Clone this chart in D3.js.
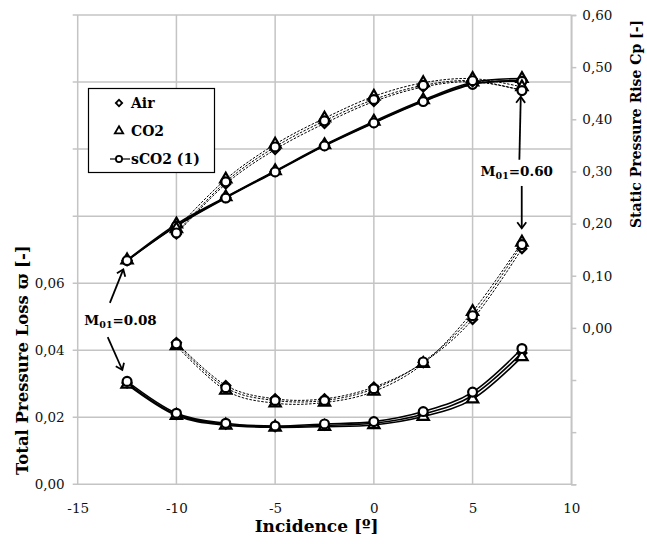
<!DOCTYPE html>
<html><head><meta charset="utf-8">
<script src="https://cdn.jsdelivr.net/npm/d3@7/dist/d3.min.js"></script>
<style>body{margin:0;background:#fff}svg{display:block}</style>
</head><body>
<svg id="c" width="647" height="544"></svg>
<script>
// ---------- data ----------
const incLow  = [-12.5, -10, -7.5, -5, -2.5, 0, 2.5, 5, 7.5];   // M01 = 0.08
const incHigh = [-10, -7.5, -5, -2.5, 0, 2.5, 5, 7.5];          // M01 = 0.60
const gases = ["Air", "CO2", "sCO2 (1)"];

// static pressure rise Cp (right axis)
const cpLowAir   = [0.129, 0.196, 0.250, 0.300, 0.350, 0.394, 0.435, 0.468, 0.474];
const cpLowCO2   = [0.130, 0.199, 0.251, 0.301, 0.351, 0.396, 0.437, 0.471, 0.478];
const cpLowSCO2  = [0.129, 0.195, 0.249, 0.299, 0.349, 0.393, 0.434, 0.467, 0.473];
const cpHighAir  = [0.180, 0.276, 0.342, 0.392, 0.434, 0.462, 0.472, 0.456];
const cpHighCO2  = [0.190, 0.285, 0.352, 0.402, 0.444, 0.470, 0.478, 0.462];
const cpHighSCO2 = [0.182, 0.280, 0.347, 0.397, 0.438, 0.465, 0.474, 0.455];

// total pressure loss (left axis)
const lossLowAir   = [0.0302, 0.0208, 0.0179, 0.0172, 0.0176, 0.0182, 0.0209, 0.0265, 0.0392];
const lossLowCO2   = [0.0298, 0.0205, 0.0176, 0.0170, 0.0172, 0.0177, 0.0202, 0.0254, 0.0380];
const lossLowSCO2  = [0.0307, 0.0212, 0.0182, 0.0174, 0.0180, 0.0187, 0.0217, 0.0275, 0.0405];
const lossHighAir  = [0.0423, 0.0295, 0.0255, 0.0255, 0.0290, 0.0363, 0.0492, 0.0703];
const lossHighCO2  = [0.0413, 0.0280, 0.0242, 0.0244, 0.0277, 0.0360, 0.0515, 0.0722];
const lossHighSCO2 = [0.0419, 0.0288, 0.0250, 0.0250, 0.0285, 0.0365, 0.0503, 0.0715];

const xTicks = [-15, -10, -5, 0, 5, 10];
const leftGridTicks = [0, 0.02, 0.04, 0.06, 0.08, 0.10, 0.12, 0.14];
const leftLabelTicks = [0, 0.02, 0.04, 0.06];
const rightTicks = [-0.3, -0.2, -0.1, 0, 0.1, 0.2, 0.3, 0.4, 0.5, 0.6];
const rightLabelTicks = [0, 0.1, 0.2, 0.3, 0.4, 0.5, 0.6];

// annotations (x in incidence, y in left-axis units)
const annLabels = ["0.08", "0.60"];
const annText = [[-12.83, 0.0490], [7.24, 0.0933]];
const annArrows = [
  [[-13.37, 0.0541, -12.69, 0.0641], [-13.48, 0.0439, -12.74, 0.0341]],
  [[7.37, 0.0968, 7.44, 0.1156], [7.49, 0.0890, 7.49, 0.0764]]
];

// ---------- layout ----------
const W = 647, H = 544;
const m = {l: 77.7, r: 75.7, t: 15, b: 59.7};
const svg = d3.select("#c");
const FONT = "'DejaVu Serif', 'Liberation Serif', serif";
const x = d3.scaleLinear().domain([-15, 10]).range([m.l, W - m.r]);
const yL = d3.scaleLinear().domain([0, 0.14]).range([H - m.b, m.t]);
const yR = d3.scaleLinear().domain([-0.3, 0.6]).range([H - m.b, m.t]);
const grid = "#c4c4c4";
const fmt = d => d3.format(".2f")(d).replace(".", ",");

// gridlines
svg.append("g").selectAll("line").data(leftGridTicks).join("line")
  .attr("x1", x(-15) - 5).attr("x2", x(10)).attr("y1", d => yL(d)).attr("y2", d => yL(d))
  .attr("stroke", grid).attr("stroke-width", 1.5);
svg.append("g").selectAll("line").data(xTicks).join("line")
  .attr("x1", d => x(d)).attr("x2", d => x(d)).attr("y1", yL(0)).attr("y2", yL(0.14))
  .attr("stroke", grid).attr("stroke-width", 1.5);

// right axis ticks
const rAxis = svg.append("g").attr("transform", `translate(${x(10)},0)`)
  .call(d3.axisRight(yR).tickValues(rightTicks).tickSize(5).tickFormat(d => rightLabelTicks.some(v => Math.abs(v - d) < 1e-9) ? fmt(d) : ""));
rAxis.select(".domain").attr("stroke", grid).attr("stroke-width", 1.5);
rAxis.selectAll(".tick line").attr("stroke", grid).attr("stroke-width", 1.5);
rAxis.selectAll("text").attr("font-family", FONT).attr("font-size", 13.5).attr("fill", "#111").attr("x", 11);

// left labels
const lAxis = svg.append("g").attr("transform", `translate(${x(-15)},0)`)
  .call(d3.axisLeft(yL).tickValues(leftLabelTicks).tickSize(0).tickFormat(fmt));
lAxis.select(".domain").remove();
lAxis.selectAll("text").attr("font-family", FONT).attr("font-size", 13.5).attr("fill", "#111").attr("x", -13);

// x labels
const xAxis = svg.append("g").attr("transform", `translate(0,${yL(0)})`)
  .call(d3.axisBottom(x).tickValues(xTicks).tickSize(0).tickFormat(d => String(d)));
xAxis.select(".domain").remove();
xAxis.selectAll("text").attr("font-family", FONT).attr("font-size", 13.5).attr("fill", "#111").attr("dy", "1.9em");

// axis titles
svg.append("text").attr("x", x(-2.9)).attr("y", 532).attr("text-anchor", "middle")
  .attr("font-family", FONT).attr("font-weight", "bold").attr("font-size", 17).text("Incidence [º]");
svg.append("text").attr("transform", `translate(28,${yL(0.037)}) rotate(-90)`).attr("text-anchor", "middle")
  .attr("font-family", FONT).attr("font-weight", "bold").attr("font-size", 16.5).text("Total Pressure Loss ϖ [-]");
svg.append("text").attr("transform", `translate(641,${yR(0.391)}) rotate(-90)`).attr("text-anchor", "middle")
  .attr("font-family", FONT).attr("font-weight", "bold").attr("font-size", 14).text("Static Pressure Rise Cp [-]");

// ---------- series ----------
const series = [
  {gas: 0, xs: incLow,  ys: cpLowAir,    sc: yR, dash: false},
  {gas: 1, xs: incLow,  ys: cpLowCO2,    sc: yR, dash: false},
  {gas: 2, xs: incLow,  ys: cpLowSCO2,   sc: yR, dash: false},
  {gas: 0, xs: incHigh, ys: cpHighAir,   sc: yR, dash: true},
  {gas: 1, xs: incHigh, ys: cpHighCO2,   sc: yR, dash: true},
  {gas: 2, xs: incHigh, ys: cpHighSCO2,  sc: yR, dash: true},
  {gas: 0, xs: incLow,  ys: lossLowAir,  sc: yL, dash: false},
  {gas: 1, xs: incLow,  ys: lossLowCO2,  sc: yL, dash: false},
  {gas: 2, xs: incLow,  ys: lossLowSCO2, sc: yL, dash: false},
  {gas: 0, xs: incHigh, ys: lossHighAir, sc: yL, dash: true},
  {gas: 1, xs: incHigh, ys: lossHighCO2, sc: yL, dash: true},
  {gas: 2, xs: incHigh, ys: lossHighSCO2,sc: yL, dash: true}
];
const symbols = [d3.symbolSquare, d3.symbolTriangle, d3.symbolCircle];
const symRot = [45, 0, 0];
const symSize = [40, 55, 62];

const gLines = svg.append("g"), gMarks = svg.append("g");
series.forEach(s => {
  const pts = s.xs.map((v, i) => [x(v), s.sc(s.ys[i])]);
  gLines.append("path").attr("d", d3.line().curve(d3.curveCatmullRom.alpha(0))(pts))
    .attr("fill", "none").attr("stroke", "#000")
    .attr("stroke-width", s.dash ? 1 : 1.6)
    .attr("stroke-dasharray", s.dash ? "2.5,1.5" : null);
});
series.forEach(s => {
  const sym = d3.symbol().type(symbols[s.gas]).size(symSize[s.gas]);
  gMarks.append("g").selectAll("path").data(s.xs).join("path")
    .attr("transform", (v, i) => `translate(${x(v)},${s.sc(s.ys[i])}) rotate(${symRot[s.gas]})`)
    .attr("d", sym()).attr("fill", "#fff").attr("stroke", "#000").attr("stroke-width", 2.2);
});

// ---------- legend ----------
const lg = svg.append("g");
lg.append("rect").attr("x", 88.5).attr("y", 88.5).attr("width", 126).attr("height", 84)
  .attr("fill", "#fff").attr("stroke", "#000").attr("stroke-width", 1.2);
const legY = [103, 131, 159];
const legSize = [20, 30, 30];
gases.forEach((g, i) => {
  if (i === 2) lg.append("line").attr("x1", 110).attr("x2", 130).attr("y1", legY[i]).attr("y2", legY[i])
    .attr("stroke", "#000").attr("stroke-width", 1.2);
  lg.append("path").attr("transform", `translate(119,${legY[i]}) rotate(${symRot[i]})`)
    .attr("d", d3.symbol().type(symbols[i]).size(legSize[i])()).attr("fill", "#fff").attr("stroke", "#000").attr("stroke-width", 1.8);
  lg.append("text").attr("x", 131).attr("y", legY[i]).attr("dy", "0.35em")
    .attr("font-family", FONT).attr("font-weight", "bold").attr("font-size", 14).text(g);
});

// ---------- annotations ----------
const defs = svg.append("defs");
defs.append("marker").attr("id", "ah").attr("viewBox", "-8 -6 10 12").attr("refX", 0).attr("refY", 0)
  .attr("markerWidth", 10).attr("markerHeight", 12).attr("markerUnits", "userSpaceOnUse").attr("orient", "auto")
  .append("path").attr("d", "M-6,-4.5 L0,0 L-6,4.5").attr("fill", "none").attr("stroke", "#000").attr("stroke-width", 1.8);
annLabels.forEach((lab, k) => {
  const t = svg.append("text").attr("x", x(annText[k][0])).attr("y", yL(annText[k][1])).attr("dy", "0.35em")
    .attr("text-anchor", "middle").attr("font-family", FONT).attr("font-weight", "bold").attr("font-size", 13.5);
  t.append("tspan").text("M");
  t.append("tspan").attr("font-size", 9.5).attr("dy", 3).text("01");
  t.append("tspan").attr("dy", -3).text("=" + lab);
  annArrows[k].forEach(a => {
    svg.append("line").attr("x1", x(a[0])).attr("y1", yL(a[1])).attr("x2", x(a[2])).attr("y2", yL(a[3]))
      .attr("stroke", "#000").attr("stroke-width", 1.8).attr("marker-end", "url(#ah)");
  });
});
</script>
</body></html>
